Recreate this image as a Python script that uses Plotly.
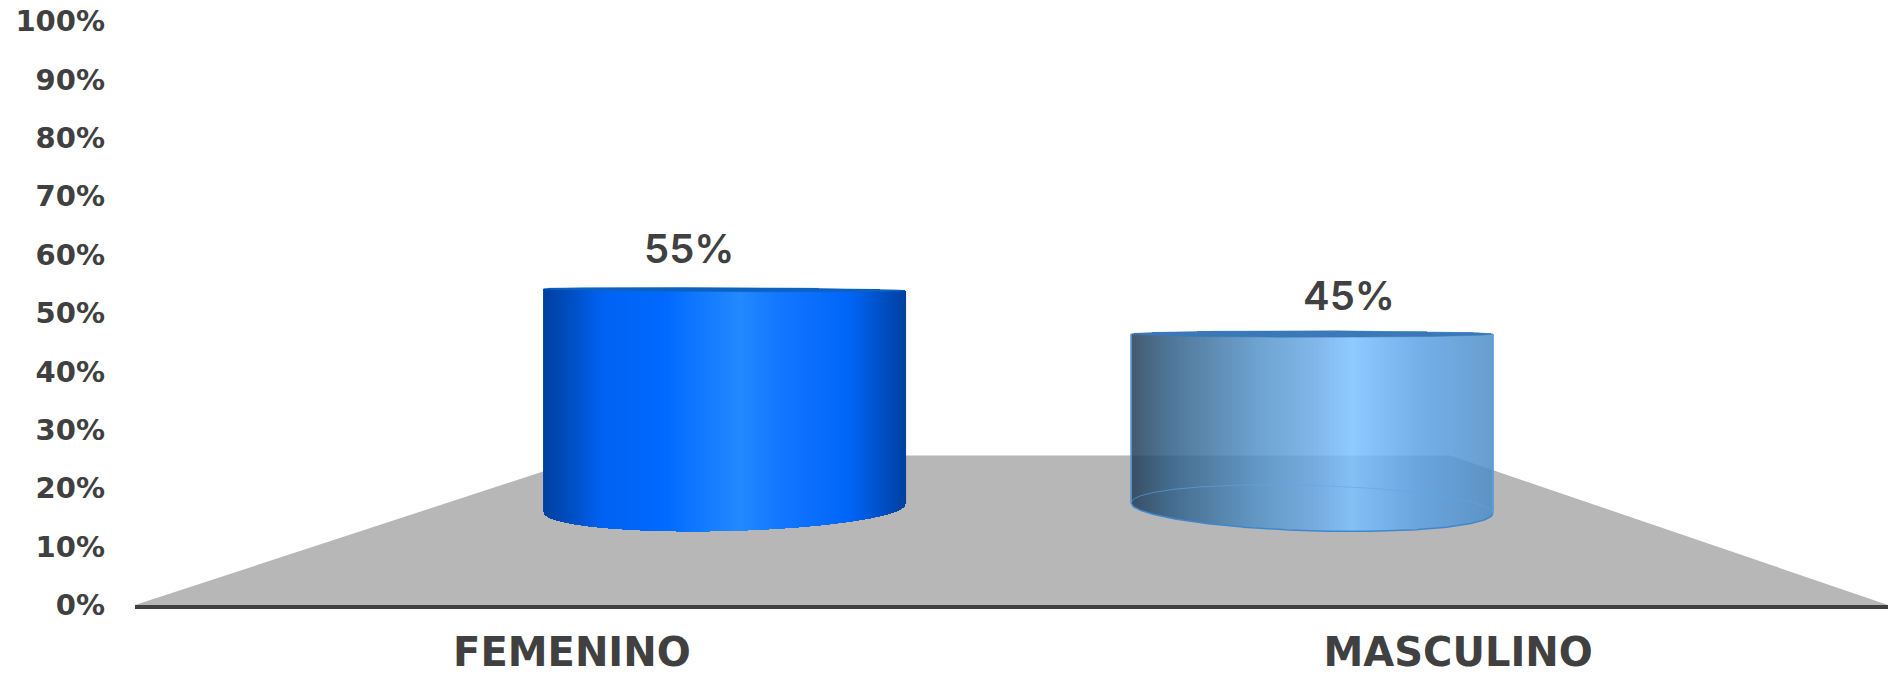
import numpy as np
import plotly.graph_objects as go

categories = ["FEMENINO", "MASCULINO"]
values = [55, 45]
value_labels = ["55%", "45%"]
y_ticks = [0, 10, 20, 30, 40, 50, 60, 70, 80, 90, 100]
y_tick_labels = [f"{v}%" for v in y_ticks]

# pseudo-3D projection of the original chart
HEIGHT_FACTOR = 0.76
TOP_ORIGIN = 12.2
BASE_Y = 16.6
BASE_B = 3.9
centers = [0.172, 0.835]
half_w = 0.204
top_b = [0.35, 0.55]
tilts = [0.7, -0.9]
top_tilts = [-0.15, 0.0]
opacities = [1.0, 0.85]
label_dx = [-0.039, 0.042]
label_y = [61.0, 53.0]
scales = [
    [[0, "#00409f"], [0.08, "#004fc4"], [0.16, "#0062f2"], [0.33, "#0069ff"], [0.42, "#0f77ff"],
     [0.54, "#2289ff"], [0.66, "#1276ff"], [0.84, "#0066fa"], [0.93, "#0050c8"], [1, "#00409f"]],
    [[0, "#233d57"], [0.1, "#305d84"], [0.35, "#5593c8"], [0.5, "#6aa9e6"], [0.61, "#7bc2ff"],
     [0.68, "#70b5f6"], [0.8, "#5ca2e4"], [1, "#4d8ec8"]],
]
lens_colors = ["#0d62c0", "#3a78b8"]

fig = go.Figure()
for i, v in enumerate(values):
    c = centers[i]
    top_y = TOP_ORIGIN + v * HEIGHT_FACTOR
    xs = np.linspace(c - half_w, c + half_w, 364)
    ys = np.arange(BASE_Y - BASE_B - 2, top_y + 2, 0.085)
    u = (xs - c) / half_w
    arc = np.sqrt(np.clip(1 - u ** 2, 0, 1))
    tilt = tilts[i] * u
    top_line = top_y + top_tilts[i] * u
    lo = BASE_Y + tilt - BASE_B * arc
    hi = top_line + top_b[i] * arc
    X_u, Y = np.meshgrid(u, ys)
    z = (X_u + 1) / 2
    z[(Y < lo[None, :]) | (Y > hi[None, :])] = np.nan
    fig.add_trace(go.Heatmap(x=xs, y=ys, z=z, zmin=0, zmax=1, colorscale=scales[i],
                             showscale=False, hoverinfo="skip", opacity=opacities[i]))
    # top lens
    lens_x = np.concatenate([xs, xs[::-1]])
    lens_y = np.concatenate([top_line + top_b[i] * arc, (top_line - top_b[i] * arc)[::-1]])
    fig.add_trace(go.Scatter(x=lens_x, y=lens_y, mode="lines", fill="toself", fillcolor=lens_colors[i],
                             line=dict(color=lens_colors[i], width=0.5), hoverinfo="skip", showlegend=False))
    if i == 1:
        # outline of the translucent cylinder and the far edge of its base
        fig.add_trace(go.Scatter(x=xs, y=BASE_Y + tilt + BASE_B * arc, mode="lines",
                                 line=dict(color="rgba(94,166,234,0.6)", width=1), hoverinfo="skip", showlegend=False))
        fig.add_trace(go.Scatter(x=xs, y=lo, mode="lines",
                                 line=dict(color="#3f87cc", width=1.5), hoverinfo="skip", showlegend=False))
        for e in (0, -1):
            fig.add_trace(go.Scatter(x=[xs[e], xs[e]], y=[lo[e], top_line[e]], mode="lines",
                                     line=dict(color="#5a9bd8", width=1.5), hoverinfo="skip", showlegend=False))
    fig.add_annotation(x=c + label_dx[i], y=label_y[i], text=value_labels[i], showarrow=False,
                       xanchor="center", yanchor="middle",
                       font=dict(family="Inter", size=40, color="#404040", weight=600))

# grey floor
fig.add_shape(type="path", xref="x", yref="y", layer="below", line_width=0, fillcolor="#b7b7b7",
              path="M -0.493 0 L 0.0226 25.6 L 0.991 25.6 L 1.485 0 Z")

fig.update_layout(
    width=1888, height=675, autosize=False,
    margin=dict(l=135, r=0, t=21, b=70, pad=0),
    paper_bgcolor="white", plot_bgcolor="white", showlegend=False,
    xaxis=dict(range=[-0.493, 1.485], tickmode="array", tickvals=[0, 1], ticktext=categories,
               automargin=False,
               showgrid=False, zeroline=False, showline=True, linecolor="#404040", linewidth=4,
               ticks="", ticklabelstandoff=9,
               tickfont=dict(family="DejaVu Sans", size=40, color="#404040", weight="bold")),
    yaxis=dict(range=[0, 100], tickmode="array", tickvals=y_ticks, ticktext=y_tick_labels,
               automargin=False,
               showgrid=False, zeroline=False, showline=False, ticks="", ticklabelstandoff=29,
               tickfont=dict(family="DejaVu Sans", size=29, color="#404040", weight="bold")),
)
fig.write_html("out.html", config=dict(displayModeBar=False),
               post_script="document.body.style.margin='0';document.documentElement.style.overflow='hidden';")
